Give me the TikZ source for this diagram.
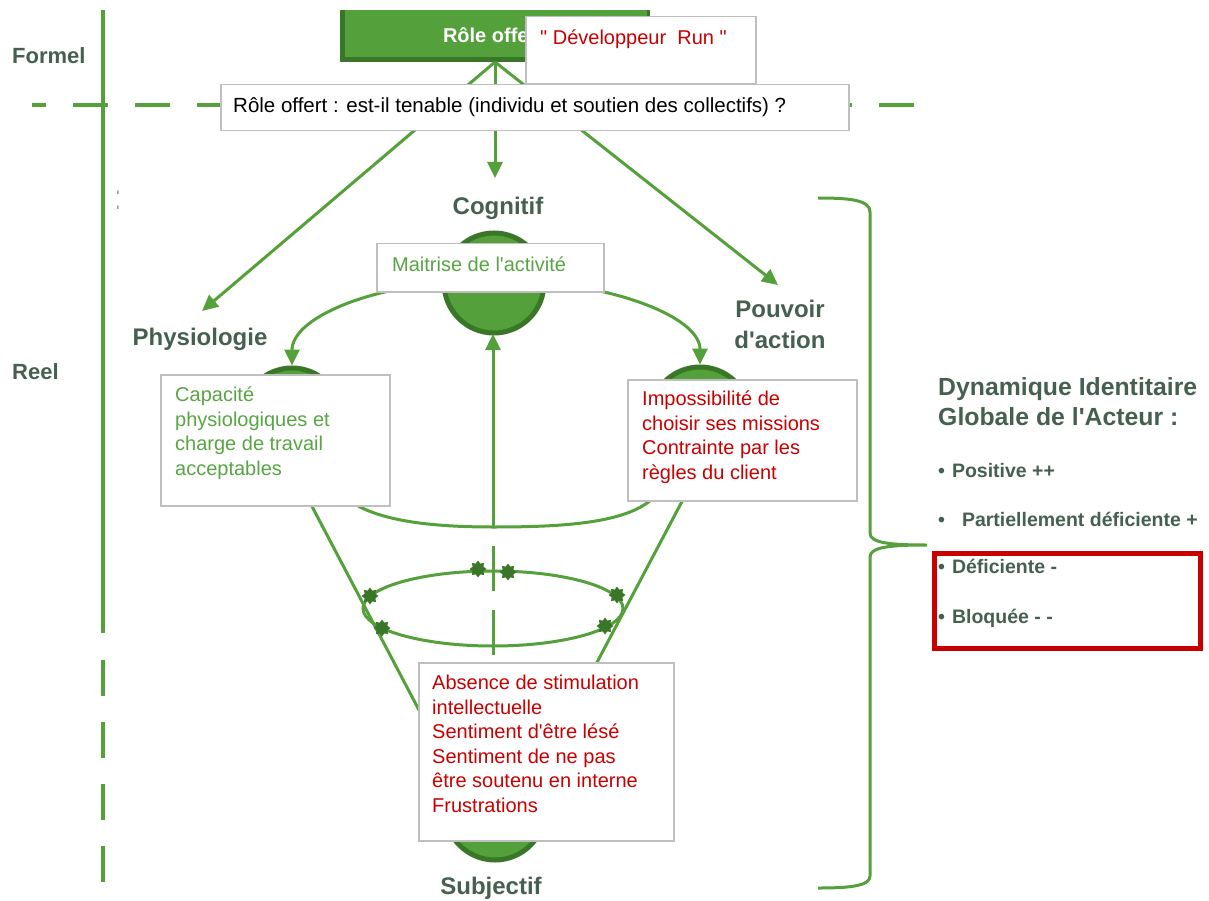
\documentclass[tikz,border=0pt]{standalone}
\usepackage{fontspec}
\setmainfont{Liberation Sans}[Ligatures=TeXOff]
\usetikzlibrary{shapes.geometric,arrows.meta}
\definecolor{gr}{RGB}{84,160,58}
\definecolor{dgr}{RGB}{58,118,40}
\definecolor{lblc}{RGB}{69,96,80}
\definecolor{bxc}{RGB}{191,191,191}
\definecolor{rdc}{RGB}{200,0,0}
\definecolor{txg}{RGB}{88,165,68}
\newcommand\myfs[2]{\fontsize{#1}{#2}\selectfont}
\begin{document}
\begin{tikzpicture}[x=1pt,y=-1pt,
  gline/.style={draw=gr,line width=3pt},
  arr/.style={gline,-{Triangle[length=16pt,width=15pt]}},
  wbox/.style={draw=bxc,line width=1.5pt,fill=white,inner sep=0pt,anchor=north west},
  circ/.style={circle,fill=gr,draw=dgr,line width=5pt,minimum size=100pt,inner sep=0pt},
  lab/.style={text=lblc,font=\bfseries\myfs{24}{31},inner sep=0pt},
  boxtxt/.style={anchor=north west,align=left,inner sep=0pt,font=\myfs{20}{24.5}},
  linetxt/.style={anchor=base west,inner sep=0pt,font=\myfs{20}{24}},
  bul/.style={anchor=base west,inner sep=0pt,text=lblc,font=\bfseries\myfs{19.5}{24}},
  starmk/.style={star,star points=8,star point ratio=1.45,minimum size=17pt,inner sep=0pt,fill=dgr,draw=none}
]
\useasboundingbox (0,0) rectangle (1209,901);

% axes
\draw[draw=gr,line width=4pt,dash pattern=on 35pt off 27pt,dash phase=21pt] (32,105) -- (915,105);
\draw[draw=gr,line width=4.5pt] (103,10) -- (103,633);
\draw[draw=gr,line width=4.5pt,dash pattern=on 36pt off 26pt] (103,660) -- (103,882);
\node[text=lblc,font=\bfseries\myfs{22}{26},anchor=base west,inner sep=0pt] (formel) at (12,64) {Formel};
\node[text=lblc,font=\bfseries\myfs{22}{26},anchor=base west,inner sep=0pt] (reel) at (12,379) {Reel};
\node[text=lblc,font=\myfs{10}{10},inner sep=0pt] (colon) at (118,200) {\scalebox{1}[3.5]{:}};

% role box
\fill[dgr] (340,10) rectangle (650,62);
\node[fill=gr,inner sep=0pt,minimum width=302pt,minimum height=47pt,anchor=north west] (role) at (345,10) {};
\node[text=white,font=\bfseries\myfs{20}{24},anchor=base,inner sep=0pt] (roletxt) at (493,43) {Rôle offert};

% arrows from role
\coordinate (src) at (495,62);
\coordinate (tphy) at (202,311);
\coordinate (tcog) at (495,178);
\coordinate (tpou) at (778,285);
\draw[arr] (src) -- (tphy);
\draw[arr] (src) -- (tcog);
\draw[arr] (src) -- (tpou);

% developpeur box
\node[wbox,minimum width=230pt,minimum height=67pt] (dev) at (525,16) {};
\node[linetxt,text=rdc] (devtxt) at (540,45) {" Développeur\ \ Run "};

% question box
\node[wbox,minimum width=628pt,minimum height=46pt] (qbox) at (220,84) {};
\node[linetxt,font=\myfs{20.5}{24}] (qtxt) at (233,113) {Rôle offert : est-il tenable (individu et soutien des collectifs) ?};

% circles
\node[circ] (cog) at (494,283) {};
\node[circ] (phy) at (292,418) {};
\node[circ] (pou) at (700,417) {};
\node[circ] (sub) at (495,810) {};

% arcs
\draw[arr] (cog.west) .. controls (360,290) and (292,320) .. (phy.north);
\draw[arr] (cog.east) .. controls (628,290) and (700,320) .. (pou.north);
\draw[gline] (phy.-50) .. controls (328,510) and (390,527) .. (493,527)
  .. controls (590,527) and (675,520) .. (pou.-130);

% funnel
\coordinate (fl1) at (306,495);
\coordinate (fl2) at (420,712);
\coordinate (fr1) at (687,492);
\coordinate (fr2) at (594,668);
\draw[gline] (fl1) -- (fl2);
\draw[gline] (fr1) -- (fr2);
\node[ellipse,draw=gr,line width=3pt,minimum width=260pt,minimum height=75pt,inner sep=0pt] (ell) at (493,608.5) {};
\node[starmk] (s1) at (478,569) {};
\node[starmk] (s2) at (508,572) {};
\node[starmk] (s3) at (370,596) {};
\node[starmk] (s4) at (617,595) {};
\node[starmk] (s5) at (382,628) {};
\node[starmk] (s6) at (605,626) {};

% vertical dashed arrow
\coordinate (vbot) at (493,655);
\draw[arr,dash pattern=on 45pt off 19pt on 45pt off 18pt on 300pt off 0pt] (vbot) -- (493,334);

% boxes
\node[wbox,minimum width=227pt,minimum height=48pt] (mbox) at (376,243) {};
\node[linetxt,text=txg] (mtxt) at (392,272) {Maitrise de l'activité};
\node[wbox,minimum width=229pt,minimum height=131pt] (pbox) at (160,374) {};
\node[boxtxt,text=txg] (ptxt) at (175,387) {Capacité\\physiologiques et\\charge de travail\\acceptables};
\node[wbox,minimum width=229pt,minimum height=121pt] (obox) at (627,379) {};
\node[boxtxt,text=rdc] (otxt) at (642,391) {Impossibilité de\\choisir ses missions\\Contrainte par les\\règles du client};
\node[wbox,minimum width=255pt,minimum height=178pt] (bbox) at (418,662) {};
\node[boxtxt,text=rdc] (btxt) at (432,675) {Absence de stimulation\\intellectuelle\\Sentiment d'être lésé\\Sentiment de ne pas\\être soutenu en interne\\Frustrations};

% labels
\node[lab,anchor=base] (lcog) at (498,215) {Cognitif};
\node[lab,anchor=base] (lphy) at (200,345) {Physiologie};
\node[lab,anchor=north,align=center] (lpou) at (780,299.5) {Pouvoir\\d'action};
\node[lab,anchor=base] (lsub) at (491,894) {Subjectif};

% bracket
\draw[gline] (818,198) .. controls (850,198) and (870,200) .. (870,212) -- (870,533)
  .. controls (870,543) and (890,545) .. (927,545)
  .. controls (890,545) and (870,547) .. (870,557) -- (870,876)
  .. controls (870,886) and (850,888) .. (818,888);

% right text
\node[lab,anchor=north west,align=left,font=\bfseries\myfs{24.8}{30}] (title) at (938,377) {Dynamique Identitaire\\Globale de l'Acteur :};
\node[bul] (b1) at (938,477) {•\hspace{7pt}Positive ++};
\node[bul] (b2) at (938,526) {•\hspace{17pt}Partiellement déficiente +};
\node[bul] (b3) at (938,573) {•\hspace{7pt}Déficiente -};
\node[bul] (b4) at (938,623) {•\hspace{7pt}Bloquée - -};
\node[draw=rdc,line width=4.5pt,anchor=north west,minimum width=266pt,minimum height=95pt,inner sep=0pt] (redbox) at (932,551) {};
\end{tikzpicture}
\end{document}
